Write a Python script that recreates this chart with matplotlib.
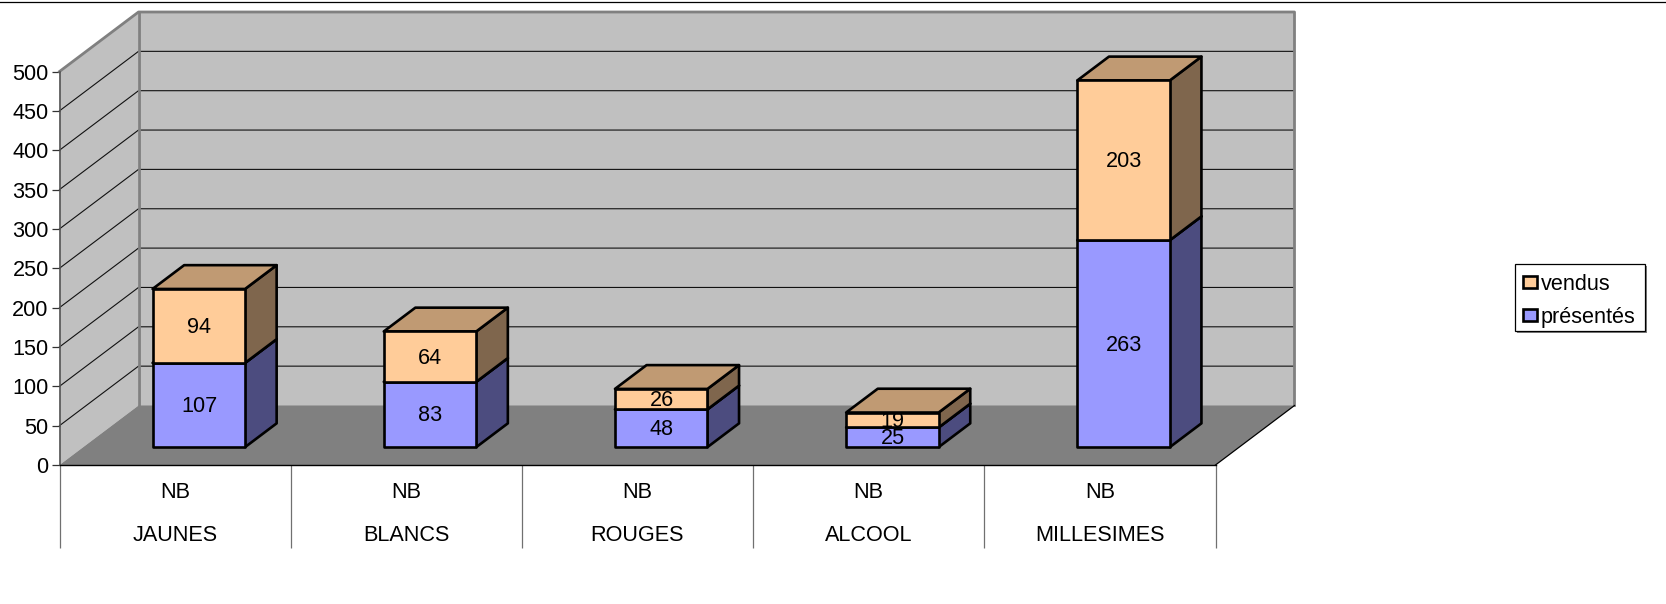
import matplotlib
matplotlib.use("Agg")
import matplotlib.pyplot as plt
from matplotlib.patches import Polygon, Rectangle

plt.rcParams["font.family"] = ["Liberation Sans", "DejaVu Sans"]
plt.rcParams["font.size"] = 15.6

# data
categories = ["JAUNES", "BLANCS", "ROUGES", "ALCOOL", "MILLESIMES"]
presentes = [107, 83, 48, 25, 263]
vendus = [94, 64, 26, 19, 203]
y_ticks = [0, 50, 100, 150, 200, 250, 300, 350, 400, 450, 500]

# colours: front, top, side
blue = ("#9999ff", "#9999ff", "#4c4c7f")
orange = ("#ffcc99", "#c09a73", "#7f664d")

W, H = 1666, 604
fig = plt.figure(figsize=(W / 100, H / 100), dpi=100)
# axes = the front plane of the fake 3d box
ax = fig.add_axes([59.5 / W, 1 - 465 / H, 1156 / W, 393.5 / H])
ax.set_xlim(0, 5)
ax.set_ylim(0, 500)
ax.patch.set_visible(False)

# depth of the box in data units (79 px across, 59.5 px up)
depth_x = 79 / 231.2
depth_y = 59.5 / 0.787


def proj(x, v, d):
    return (x + d * depth_x, v + d * depth_y)


def poly(pts, color, z, edge="none", lw=0):
    ax.add_patch(Polygon(pts, closed=True, facecolor=color, edgecolor=edge,
                         linewidth=lw, zorder=z, clip_on=False, joinstyle="round"))


# walls and floor
poly([proj(0, 0, 0), proj(0, 0, 1), proj(0, 500, 1), proj(0, 500, 0)], "#c0c0c0", 1)
poly([proj(0, 0, 1), proj(5, 0, 1), proj(5, 500, 1), proj(0, 500, 1)], "#c0c0c0", 1)
poly([proj(0, 0, 0), proj(5, 0, 0), proj(5, 0, 1), proj(0, 0, 1)], "#808080", 2)

# gridlines on both walls
for v in y_ticks[1:-1]:
    a, b, c = proj(0, v, 0), proj(0, v, 1), proj(5, v, 1)
    ax.plot([a[0], b[0], c[0]], [a[1], b[1], c[1]], color="#111111", lw=0.8,
            zorder=3, clip_on=False)

# wall borders
border = [proj(0, 500, 0), proj(0, 500, 1), proj(5, 500, 1), proj(5, 0, 1)]
ax.plot([p[0] for p in border], [p[1] for p in border], color="#808080", lw=2,
        zorder=4, clip_on=False)
back = [proj(0, 0, 1), proj(0, 500, 1)]
ax.plot([p[0] for p in back], [p[1] for p in back], color="#808080", lw=2,
        zorder=4, clip_on=False)
edge = [proj(5, 0, 0), proj(5, 0, 1)]
ax.plot([p[0] for p in edge], [p[1] for p in edge], color="black", lw=0.9,
        zorder=4, clip_on=False)

# stacked bars
bar_w = 0.4
d0, d1 = 0.3, 0.7
for i in range(len(categories)):
    left = i + 0.5 - bar_w / 2
    right = i + 0.5 + bar_w / 2
    bottom = 0
    for vals, cols in ((presentes, blue), (vendus, orange)):
        top = bottom + vals[i]
        lw = 1.9
        z = 5 + (0 if cols is blue else 1)
        poly([proj(right, bottom, d0), proj(right, bottom, d1),
              proj(right, top, d1), proj(right, top, d0)], cols[2], z, "black", lw)
        poly([proj(left, top, d0), proj(right, top, d0),
              proj(right, top, d1), proj(left, top, d1)], cols[1], z, "black", lw)
        poly([proj(left, bottom, d0), proj(right, bottom, d0),
              proj(right, top, d0), proj(left, top, d0)], cols[0], z, "black", lw)
        cx, cy = proj(i + 0.5, bottom + vals[i] / 2, d0)
        ax.annotate(str(vals[i]), (cx, cy), xytext=(0.3, 0.8), textcoords="offset points",
                    ha="center", va="center_baseline", color="black", zorder=8,
                    annotation_clip=False)
        bottom = top

# axes
for s in ("top", "right"):
    ax.spines[s].set_visible(False)
ax.spines["left"].set_color("#555555")
ax.spines["left"].set_linewidth(1.2)
ax.spines["left"].set_zorder(6)
ax.spines["bottom"].set_color("black")
ax.spines["bottom"].set_linewidth(1)
ax.spines["bottom"].set_zorder(6)
ax.set_yticks(y_ticks)
ax.tick_params(axis="y", length=5.8, width=0.9, color="#333333", pad=2)
ax.set_xticks(range(len(categories) + 1))
ax.set_xticklabels([])
ax.tick_params(axis="x", length=60, width=0.9, color="#707070")

# two line category labels
for i, name in enumerate(categories):
    ax.annotate("NB", (i + 0.5, 0), xytext=(0, -25 * 0.72), textcoords="offset points",
                ha="center", va="center_baseline", annotation_clip=False)
    ax.annotate(name, (i + 0.5, 0), xytext=(0, -68 * 0.72), textcoords="offset points",
                ha="center", va="center_baseline", annotation_clip=False)

# legend, placed by hand in figure pixels
def box(x, y, w, h, face, edge, lw, z):
    fig.add_artist(Rectangle((x / W, 1 - (y + h) / H), w / W, h / H, facecolor=face,
                             edgecolor=edge, linewidth=lw, zorder=z,
                             transform=fig.transFigure))


box(1516.5, 265.5, 130, 67, "#808080", "none", 0, 10)
box(1515, 264, 130, 67, "white", "black", 0.9, 11)
box(1523, 275.5, 13.5, 12.5, orange[0], "black", 1.9, 12)
box(1523, 308.5, 13.5, 12.5, blue[0], "black", 1.9, 12)
fig.text(1541 / W, 1 - 282 / H, "vendus", ha="left", va="center_baseline", zorder=12)
fig.text(1541 / W, 1 - 315 / H, "présentés", ha="left", va="center_baseline", zorder=12)

# rule along the top of the page
fig.add_artist(plt.Line2D([0, 1], [1 - 1.5 / H, 1 - 1.5 / H], color="black", lw=0.9))

fig.savefig("out.png", dpi=100)
plt.close(fig)
